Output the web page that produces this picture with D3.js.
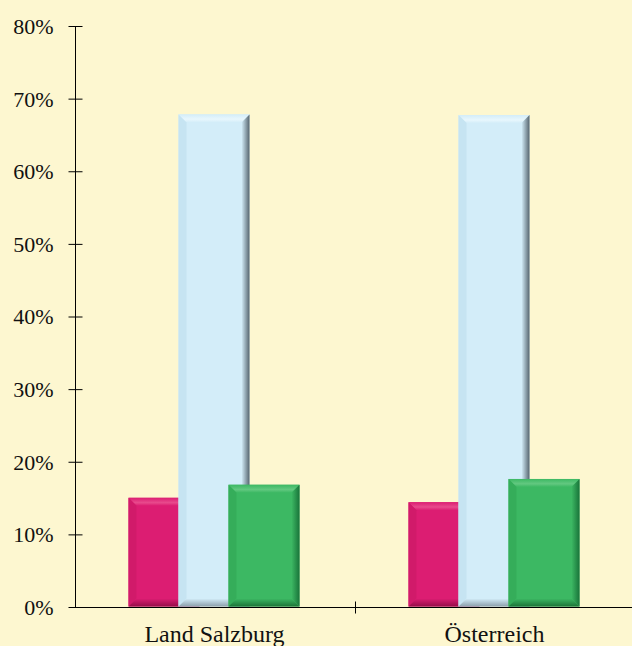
<!DOCTYPE html>
<html><head><meta charset="utf-8">
<script src="https://cdn.jsdelivr.net/npm/d3@7"></script>
<style>
html,body{margin:0;padding:0;background:#FDF7D0;}
svg{display:block;}
text{font-family:"Liberation Serif","Times New Roman",serif;fill:#111;}
</style></head>
<body>
<svg id="chart" width="632" height="646"></svg>
<script>
const categories = ["Land Salzburg", "Österreich"];
const seriesNames = ["A", "B", "C"];
const seriesA = [15.1, 14.5];
const seriesB = [67.9, 67.8];
const seriesC = [16.9, 17.7];
const yTicks = [0, 10, 20, 30, 40, 50, 60, 70, 80];

const palette = [
  {face:"#DC1D72", top:"#E84A8C", left:"#D11A6A", right:"#9E0E4D", bottom:"#960D49"},
  {face:"#D3EDF9", top:"#E8F7FD", left:"#C6E4F2", right:"#56656F", bottom:"#8C9FAB"},
  {face:"#3CB863", top:"#62C880", left:"#35AD5A", right:"#19743A", bottom:"#1C7438"}
];

const svg = d3.select("#chart");
const W = 632, H = 646;
svg.append("rect").attr("width", W).attr("height", H).attr("fill", "#FDF7D0");
const defs = svg.append("defs");
palette.forEach((p, j) => {
  const gr = defs.append("linearGradient").attr("id", "gr" + j).attr("x1", 0).attr("x2", 1).attr("y1", 0).attr("y2", 0);
  gr.append("stop").attr("offset", 0).attr("stop-color", p.face);
  gr.append("stop").attr("offset", 1).attr("stop-color", p.right);
  const gb = defs.append("linearGradient").attr("id", "gb" + j).attr("x1", 0).attr("x2", 0).attr("y1", 0).attr("y2", 1);
  gb.append("stop").attr("offset", 0).attr("stop-color", p.face);
  gb.append("stop").attr("offset", 1).attr("stop-color", p.bottom);
  const gt = defs.append("linearGradient").attr("id", "gt" + j).attr("x1", 0).attr("x2", 0).attr("y1", 0).attr("y2", 1);
  gt.append("stop").attr("offset", 0).attr("stop-color", p.face);
  gt.append("stop").attr("offset", 0.6).attr("stop-color", p.top);
  gt.append("stop").attr("offset", 1).attr("stop-color", p.face);
});

const y = d3.scaleLinear().domain([0, 80]).range([607.5, 26.5]);
const x0 = d3.scaleBand().domain(categories).range([75.5, 635.5]).padding(0);
const x1 = d3.scalePoint().domain(seriesNames).range([-50, 50]);
const barW = 71, b = 8;

const data = [];
categories.forEach((c, i) => {
  [seriesA, seriesB, seriesC].forEach((s, j) => {
    data.push({cat: c, ser: seriesNames[j], v: s[i], j});
  });
});

const bars = svg.append("g");
seriesNames.forEach((sn, j) => {
  data.filter(d => d.j === j).forEach(d => {
    const cx = x0(d.cat) + x0.bandwidth() / 2 - 1.5 + x1(d.ser);
    const xa = cx - barW / 2, xb = cx + barW / 2;
    const ya = y(d.v), yb = y(0) - 1;
    const p = palette[j];
    const g = bars.append("g");
    g.append("rect").attr("x", xa).attr("y", ya).attr("width", xb - xa).attr("height", yb - ya).attr("fill", p.face);
    const poly = (pts, fill) => g.append("polygon").attr("points", pts.map(q => q.join(",")).join(" ")).attr("fill", fill);
    poly([[xa, ya], [xb, ya], [xb - b, ya + b], [xa + b, ya + b]], `url(#gt${j})`);
    poly([[xa, ya], [xa + b, ya + b], [xa + b, yb - b], [xa, yb]], p.left);
    poly([[xb, ya], [xb, yb], [xb - b, yb - b], [xb - b, ya + b]], `url(#gr${j})`);
    poly([[xa, yb], [xa + b, yb - b], [xb - b, yb - b], [xb, yb]], `url(#gb${j})`);
  });
});

// Y axis
const yAxis = svg.append("g").attr("transform", "translate(75.5,0)");
yAxis.append("line").attr("x1", 0).attr("x2", 0).attr("y1", y(80)).attr("y2", y(0)).attr("stroke", "#000");
yTicks.forEach(t => {
  yAxis.append("line").attr("x1", -7).attr("x2", 7).attr("y1", y(t)).attr("y2", y(t)).attr("stroke", "#000");
  yAxis.append("text").attr("x", -22).attr("y", y(t)).attr("dy", "0.34em")
    .attr("text-anchor", "end").attr("font-size", 22).text(t + "%");
});

// X axis
const xAxis = svg.append("g").attr("transform", `translate(0,${y(0)})`);
xAxis.append("line").attr("x1", 75.5).attr("x2", W).attr("y1", 0).attr("y2", 0).attr("stroke", "#000");
categories.slice(1).forEach(c => {
  const xx = Math.round(x0(c)) - 0.5;
  xAxis.append("line").attr("x1", xx).attr("x2", xx).attr("y1", -6).attr("y2", 6).attr("stroke", "#000");
});
categories.forEach(c => {
  xAxis.append("text").attr("x", x0(c) + x0.bandwidth() / 2 - 1).attr("y", 34)
    .attr("text-anchor", "middle").attr("font-size", 24).text(c);
});
</script>
</body></html>
